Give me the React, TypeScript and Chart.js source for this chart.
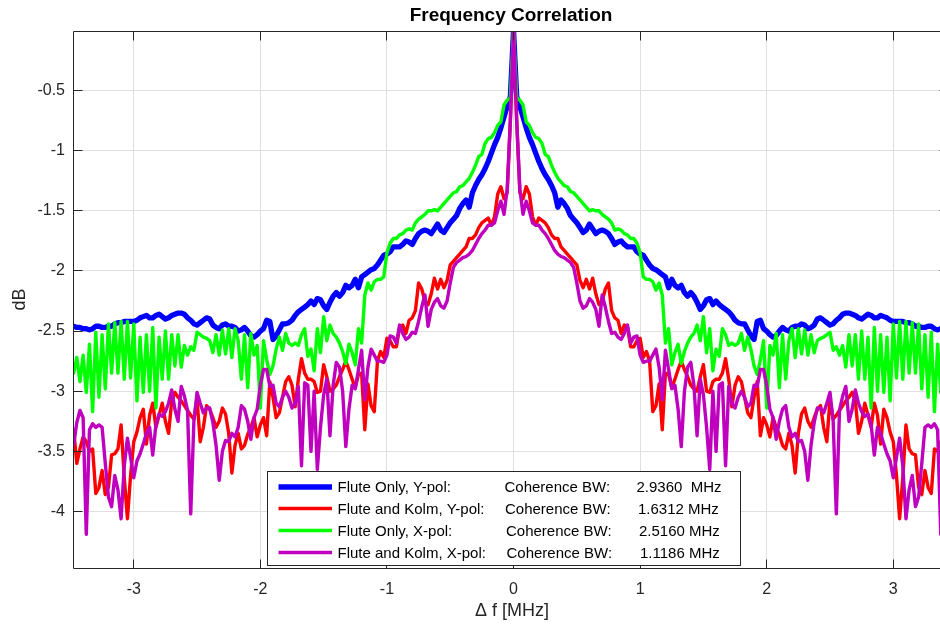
import React, { useEffect, useRef } from 'react';
import { Chart, registerables } from 'chart.js';

Chart.register(...registerables);

const FONT = '"Liberation Sans", Arial, Helvetica, sans-serif';
const INK = '#262626';
const GRID = '#dfdfdf';

// Frequency offset grid [MHz]
const freqMHz = [
  -3.475, -3.45, -3.425, -3.4, -3.375, -3.35, -3.325, -3.3, -3.275, -3.25,
  -3.225, -3.2, -3.175, -3.15, -3.125, -3.1, -3.075, -3.05, -3.025, -3,
  -2.975, -2.95, -2.925, -2.9, -2.875, -2.85, -2.825, -2.8, -2.775, -2.75,
  -2.725, -2.7, -2.675, -2.65, -2.625, -2.6, -2.575, -2.55, -2.525, -2.5,
  -2.475, -2.45, -2.425, -2.4, -2.375, -2.35, -2.325, -2.3, -2.275, -2.25,
  -2.225, -2.2, -2.175, -2.15, -2.125, -2.1, -2.075, -2.05, -2.025, -2,
  -1.975, -1.95, -1.925, -1.9, -1.875, -1.85, -1.825, -1.8, -1.775, -1.75,
  -1.725, -1.7, -1.675, -1.65, -1.625, -1.6, -1.575, -1.55, -1.525, -1.5,
  -1.475, -1.45, -1.425, -1.4, -1.375, -1.35, -1.325, -1.3, -1.275, -1.25,
  -1.225, -1.2, -1.175, -1.15, -1.125, -1.1, -1.075, -1.05, -1.025, -1,
  -0.975, -0.95, -0.925, -0.9, -0.875, -0.85, -0.825, -0.8, -0.775, -0.75,
  -0.725, -0.7, -0.675, -0.65, -0.625, -0.6, -0.575, -0.55, -0.525, -0.5,
  -0.475, -0.45, -0.425, -0.4, -0.375, -0.35, -0.325, -0.3, -0.275, -0.25,
  -0.225, -0.2, -0.175, -0.15, -0.125, -0.1, -0.075, -0.05, -0.025,
  0, 0.025, 0.05, 0.075, 0.1, 0.125, 0.15, 0.175, 0.2, 0.225,
  0.25, 0.275, 0.3, 0.325, 0.35, 0.375, 0.4, 0.425, 0.45, 0.475,
  0.5, 0.525, 0.55, 0.575, 0.6, 0.625, 0.65, 0.675, 0.7, 0.725,
  0.75, 0.775, 0.8, 0.825, 0.85, 0.875, 0.9, 0.925, 0.95, 0.975,
  1, 1.025, 1.05, 1.075, 1.1, 1.125, 1.15, 1.175, 1.2, 1.225,
  1.25, 1.275, 1.3, 1.325, 1.35, 1.375, 1.4, 1.425, 1.45, 1.475,
  1.5, 1.525, 1.55, 1.575, 1.6, 1.625, 1.65, 1.675, 1.7, 1.725,
  1.75, 1.775, 1.8, 1.825, 1.85, 1.875, 1.9, 1.925, 1.95, 1.975,
  2, 2.025, 2.05, 2.075, 2.1, 2.125, 2.15, 2.175, 2.2, 2.225,
  2.25, 2.275, 2.3, 2.325, 2.35, 2.375, 2.4, 2.425, 2.45, 2.475,
  2.5, 2.525, 2.55, 2.575, 2.6, 2.625, 2.65, 2.675, 2.7, 2.725,
  2.75, 2.775, 2.8, 2.825, 2.85, 2.875, 2.9, 2.925, 2.95, 2.975,
  3, 3.025, 3.05, 3.075, 3.1, 3.125, 3.15, 3.175, 3.2, 3.225,
  3.25, 3.275, 3.3, 3.325, 3.35, 3.375, 3.4, 3.425, 3.45,
];

// Flute Only, Y-pol [dB]
const fluteOnlyYpol = [
  -2.46, -2.47, -2.47, -2.48, -2.48, -2.49, -2.48, -2.46, -2.46, -2.47,
  -2.47, -2.46, -2.46, -2.44, -2.43, -2.43, -2.42, -2.42, -2.42, -2.42,
  -2.41, -2.39, -2.38, -2.37, -2.39, -2.39, -2.37, -2.36, -2.38, -2.40,
  -2.39, -2.37, -2.36, -2.35, -2.35, -2.36, -2.39, -2.41, -2.44, -2.45,
  -2.43, -2.41, -2.39, -2.40, -2.45, -2.47, -2.48, -2.45, -2.44, -2.46,
  -2.46, -2.47, -2.50, -2.49, -2.47, -2.50, -2.54, -2.55, -2.53, -2.50,
  -2.48, -2.41, -2.42, -2.57, -2.54, -2.49, -2.44, -2.44, -2.43, -2.41,
  -2.37, -2.34, -2.32, -2.30, -2.28, -2.25, -2.28, -2.23, -2.24, -2.29,
  -2.32, -2.26, -2.21, -2.18, -2.21, -2.18, -2.12, -2.14, -2.12, -2.07,
  -2.14, -2.05, -2.03, -2.01, -1.99, -1.98, -1.95, -1.91, -1.87, -1.86,
  -1.84, -1.80, -1.80, -1.80, -1.78, -1.75, -1.76, -1.78, -1.73, -1.69,
  -1.67, -1.66, -1.67, -1.69, -1.65, -1.61, -1.66, -1.68, -1.64, -1.60,
  -1.57, -1.54, -1.48, -1.44, -1.41, -1.47, -1.35, -1.29, -1.24, -1.20,
  -1.15, -1.09, -1.02, -0.95, -0.89, -0.81, -0.72, -0.63, -0.55,
  0, -0.55, -0.63, -0.72, -0.81, -0.89, -0.95, -1.02, -1.09, -1.15,
  -1.20, -1.24, -1.29, -1.35, -1.47, -1.41, -1.44, -1.48, -1.54, -1.57,
  -1.60, -1.64, -1.68, -1.66, -1.61, -1.65, -1.69, -1.67, -1.66, -1.67,
  -1.69, -1.73, -1.78, -1.76, -1.75, -1.78, -1.80, -1.80, -1.80, -1.84,
  -1.86, -1.87, -1.91, -1.95, -1.98, -1.99, -2.01, -2.03, -2.05, -2.14,
  -2.07, -2.12, -2.14, -2.12, -2.18, -2.21, -2.18, -2.21, -2.26, -2.32,
  -2.29, -2.24, -2.23, -2.28, -2.25, -2.28, -2.30, -2.32, -2.34, -2.37,
  -2.41, -2.43, -2.44, -2.44, -2.49, -2.54, -2.57, -2.42, -2.41, -2.48,
  -2.50, -2.53, -2.55, -2.54, -2.50, -2.47, -2.49, -2.50, -2.47, -2.46,
  -2.46, -2.44, -2.45, -2.48, -2.47, -2.45, -2.40, -2.39, -2.41, -2.43,
  -2.45, -2.44, -2.41, -2.39, -2.36, -2.35, -2.35, -2.36, -2.37, -2.39,
  -2.40, -2.38, -2.36, -2.37, -2.39, -2.39, -2.37, -2.38, -2.39, -2.41,
  -2.42, -2.42, -2.42, -2.42, -2.43, -2.43, -2.44, -2.46, -2.46, -2.47,
  -2.47, -2.46, -2.46, -2.48, -2.49, -2.48, -2.48, -2.47, -2.47,
];

// Flute and Kolm, Y-pol [dB]
const fluteKolmYpol = [
  -3.32, -3.60, -3.48, -3.38, -3.42, -3.50, -3.48, -3.85, -3.80, -3.66,
  -3.86, -3.80, -3.53, -3.52, -3.48, -3.28, -3.72, -4.06, -3.70, -3.42,
  -3.34, -3.22, -3.15, -3.44, -3.20, -3.10, -3.30, -3.20, -3.10, -3.25,
  -3.35, -3.08, -3.01, -3.05, -3.08, -3.12, -3.16, -3.20, -3.23, -3.07,
  -3.42, -3.30, -3.12, -3.15, -3.22, -3.30, -3.25, -3.14, -3.19, -3.35,
  -3.68, -3.45, -3.35, -3.48, -3.45, -3.36, -3.30, -3.22, -3.38, -3.28,
  -3.22, -3.37, -2.92, -3.05, -3.22, -3.18, -3.05, -2.92, -2.88, -2.95,
  -3.13, -2.90, -2.73, -2.85, -2.90, -2.90, -2.92, -3.01, -3.00, -2.78,
  -2.88, -3.00, -2.98, -2.95, -2.88, -2.82, -2.75, -2.82, -2.90, -2.97,
  -2.86, -2.85, -3.32, -2.94, -3.12, -3.17, -2.75, -2.67, -2.72, -2.56,
  -2.58, -2.63, -2.63, -2.47, -2.45, -2.52, -2.41, -2.39, -2.33, -2.10,
  -2.15, -2.25, -2.28, -2.19, -2.06, -2.15, -2.07, -2.14, -2.08, -1.95,
  -1.92, -1.89, -1.86, -1.83, -1.80, -1.73, -1.73, -1.70, -1.64, -1.60,
  -1.58, -1.56, -1.62, -1.55, -1.36, -1.30, -1.40, -1.35, -0.75,
  0, -0.75, -1.35, -1.40, -1.30, -1.36, -1.55, -1.62, -1.56, -1.58,
  -1.60, -1.64, -1.70, -1.73, -1.73, -1.80, -1.83, -1.86, -1.89, -1.92,
  -1.95, -2.08, -2.14, -2.07, -2.15, -2.06, -2.19, -2.28, -2.25, -2.15,
  -2.10, -2.33, -2.39, -2.41, -2.52, -2.45, -2.47, -2.63, -2.63, -2.58,
  -2.56, -2.72, -2.67, -2.75, -3.17, -3.12, -2.94, -3.32, -2.85, -2.86,
  -2.97, -2.90, -2.82, -2.75, -2.82, -2.88, -2.95, -2.98, -3.00, -2.88,
  -2.78, -3.00, -3.01, -2.92, -2.90, -2.90, -2.85, -2.73, -2.90, -3.13,
  -2.95, -2.88, -2.92, -3.05, -3.18, -3.22, -3.05, -2.92, -3.37, -3.22,
  -3.28, -3.38, -3.22, -3.30, -3.36, -3.45, -3.48, -3.35, -3.45, -3.68,
  -3.35, -3.19, -3.14, -3.25, -3.30, -3.22, -3.15, -3.12, -3.30, -3.42,
  -3.07, -3.23, -3.20, -3.16, -3.12, -3.08, -3.05, -3.01, -3.08, -3.35,
  -3.25, -3.10, -3.20, -3.30, -3.10, -3.20, -3.44, -3.15, -3.22, -3.34,
  -3.42, -3.70, -4.06, -3.72, -3.28, -3.48, -3.52, -3.53, -3.80, -3.86,
  -3.66, -3.80, -3.85, -3.48, -3.50, -3.42, -3.38, -3.48, -3.60,
];

// Flute Only, X-pol [dB]
const fluteOnlyXpol = [
  -2.85, -2.72, -2.92, -2.70, -3.01, -2.61, -3.17, -2.51, -3.05, -2.53,
  -2.98, -2.44, -2.85, -2.43, -2.85, -2.42, -2.90, -2.42, -2.89, -2.44,
  -3.08, -2.55, -3.01, -2.53, -3.00, -2.47, -3.14, -2.55, -2.90, -2.50,
  -2.90, -2.53, -2.79, -2.53, -2.80, -2.62, -2.70, -2.63, -2.66, -2.51,
  -2.53, -2.55, -2.56, -2.58, -2.68, -2.53, -2.70, -2.49, -2.69, -2.48,
  -2.72, -2.48, -2.58, -2.90, -2.53, -2.97, -2.52, -2.70, -2.62, -3.14,
  -2.58, -2.74, -2.86, -2.79, -2.65, -2.55, -2.66, -2.52, -2.60, -2.62,
  -2.60, -2.62, -2.53, -2.48, -2.71, -2.65, -2.83, -2.48, -2.68, -2.38,
  -2.58, -2.45, -2.52, -2.55, -2.60, -2.67, -2.77, -2.61, -2.68, -2.78,
  -2.48, -2.60, -2.20, -2.10, -2.16, -2.09, -2.07, -2.07, -2.05, -1.85,
  -1.77, -1.73, -1.73, -1.70, -1.69, -1.66, -1.65, -1.66, -1.60, -1.57,
  -1.55, -1.53, -1.50, -1.50, -1.49, -1.50, -1.47, -1.44, -1.41, -1.38,
  -1.35, -1.34, -1.30, -1.29, -1.26, -1.23, -1.18, -1.12, -1.05, -1.03,
  -0.94, -0.90, -0.89, -0.85, -0.79, -0.76, -0.62, -0.58, -0.56,
  0, -0.56, -0.58, -0.62, -0.76, -0.79, -0.85, -0.89, -0.90, -0.94,
  -1.03, -1.05, -1.12, -1.18, -1.23, -1.26, -1.29, -1.30, -1.34, -1.35,
  -1.38, -1.41, -1.44, -1.47, -1.50, -1.49, -1.50, -1.50, -1.53, -1.55,
  -1.57, -1.60, -1.66, -1.65, -1.66, -1.69, -1.70, -1.73, -1.73, -1.77,
  -1.85, -2.05, -2.07, -2.07, -2.09, -2.16, -2.10, -2.20, -2.60, -2.48,
  -2.78, -2.68, -2.61, -2.77, -2.67, -2.60, -2.55, -2.52, -2.45, -2.58,
  -2.38, -2.68, -2.48, -2.83, -2.65, -2.71, -2.48, -2.53, -2.62, -2.60,
  -2.62, -2.60, -2.52, -2.66, -2.55, -2.65, -2.79, -2.86, -2.74, -2.58,
  -3.14, -2.62, -2.70, -2.52, -2.97, -2.53, -2.90, -2.58, -2.48, -2.72,
  -2.48, -2.69, -2.49, -2.70, -2.53, -2.68, -2.58, -2.56, -2.55, -2.53,
  -2.51, -2.66, -2.63, -2.70, -2.62, -2.80, -2.53, -2.79, -2.53, -2.90,
  -2.50, -2.90, -2.55, -3.14, -2.47, -3.00, -2.53, -3.01, -2.55, -3.08,
  -2.44, -2.89, -2.42, -2.90, -2.42, -2.85, -2.43, -2.85, -2.44, -2.98,
  -2.53, -3.05, -2.51, -3.17, -2.61, -3.01, -2.70, -2.92, -2.72,
];

// Flute and Kolm, X-pol [dB]
const fluteKolmXpol = [
  -3.45, -3.26, -3.16, -3.22, -4.19, -3.32, -3.27, -3.30, -3.28, -3.30,
  -3.60, -3.88, -3.96, -3.70, -3.82, -4.06, -3.62, -3.39, -3.55, -3.72,
  -3.58, -3.52, -3.44, -3.35, -3.30, -3.53, -3.28, -3.19, -3.21, -3.17,
  -3.10, -2.99, -3.15, -3.25, -2.96, -3.04, -3.16, -4.02, -3.25, -3.01,
  -3.10, -3.18, -3.14, -3.14, -3.26, -3.45, -3.74, -3.50, -3.41, -3.42,
  -3.35, -3.38, -3.30, -3.12, -3.15, -3.25, -3.40, -3.22, -3.15, -2.95,
  -2.82, -2.82, -2.96, -2.95, -3.10, -3.13, -3.05, -3.00, -3.05, -3.14,
  -3.10, -2.96, -3.62, -2.93, -2.95, -3.50, -3.00, -3.65, -3.30, -3.03,
  -2.90, -3.37, -2.95, -2.76, -2.80, -3.00, -3.46, -3.15, -2.95, -2.98,
  -2.82, -2.66, -3.07, -2.80, -2.65, -2.70, -2.75, -2.75, -2.76, -2.70,
  -2.54, -2.55, -2.60, -2.45, -2.52, -2.57, -2.55, -2.51, -2.52, -2.42,
  -2.30, -2.20, -2.46, -2.32, -2.26, -2.23, -2.29, -2.31, -2.25, -2.10,
  -1.97, -1.93, -1.91, -1.89, -1.88, -1.86, -1.83, -1.78, -1.73, -1.69,
  -1.66, -1.62, -1.62, -1.60, -1.50, -1.42, -1.53, -1.32, -0.75,
  0, -0.75, -1.32, -1.53, -1.42, -1.50, -1.60, -1.62, -1.62, -1.66,
  -1.69, -1.73, -1.78, -1.83, -1.86, -1.88, -1.89, -1.91, -1.93, -1.97,
  -2.10, -2.25, -2.31, -2.29, -2.23, -2.26, -2.32, -2.46, -2.20, -2.30,
  -2.42, -2.52, -2.51, -2.55, -2.57, -2.52, -2.45, -2.60, -2.55, -2.54,
  -2.70, -2.76, -2.75, -2.75, -2.70, -2.65, -2.80, -3.07, -2.66, -2.82,
  -2.98, -2.95, -3.15, -3.46, -3.00, -2.80, -2.76, -2.95, -3.37, -2.90,
  -3.03, -3.30, -3.65, -3.00, -3.50, -2.95, -2.93, -3.62, -2.96, -3.10,
  -3.14, -3.05, -3.00, -3.05, -3.13, -3.10, -2.95, -2.96, -2.82, -2.82,
  -2.95, -3.15, -3.22, -3.40, -3.25, -3.15, -3.12, -3.30, -3.38, -3.35,
  -3.42, -3.41, -3.50, -3.74, -3.45, -3.26, -3.14, -3.14, -3.18, -3.10,
  -3.01, -3.25, -4.02, -3.16, -3.04, -2.96, -3.25, -3.15, -2.99, -3.10,
  -3.17, -3.21, -3.19, -3.28, -3.53, -3.30, -3.35, -3.44, -3.52, -3.58,
  -3.72, -3.55, -3.39, -3.62, -4.06, -3.82, -3.70, -3.96, -3.88, -3.60,
  -3.30, -3.28, -3.30, -3.27, -3.32, -4.19, -3.22, -3.16, -3.26,
];

const xTicks = [-3, -2, -1, 0, 1, 2, 3];
const yTicks = [-4, -3.5, -3, -2.5, -2, -1.5, -1, -0.5];

const seriesNames = [
  'Flute Only, Y-pol:',
  'Flute and Kolm, Y-pol:',
  'Flute Only, X-pol:',
  'Flute and Kolm, X-pol:',
];
const coherenceLabel = 'Coherence BW:';
const coherenceBW = ['2.9360  MHz', '1.6312 MHz', '2.5160 MHz', '1.1186 MHz'];
const seriesColors = ['#0000ff', '#ff0000', '#00ff00', '#bf00bf'];
const seriesWidths = [5.3, 3.4, 3.4, 3.4];
const seriesValues = [fluteOnlyYpol, fluteKolmYpol, fluteOnlyXpol, fluteKolmXpol];
const drawOrder = [3, 2, 1, 0];

const titleText = 'Frequency Correlation';
const xLabelText = '\u0394 f [MHz]';
const yLabelText = 'dB';

function alignPx(p: number) {
  return Math.round(p - 0.5) + 0.5;
}

const matlabPlugin = {
  id: 'matlabDecor',
  afterDatasetsDraw(chart: any) {
    const { ctx, chartArea: a, scales } = chart;
    ctx.save();
    ctx.strokeStyle = INK;
    ctx.lineWidth = 1;
    const L = a.left + 0.5;
    const R = a.right - 0.5;
    const T = a.top + 0.5;
    const B = a.bottom + 0.5;
    ctx.beginPath();
    ctx.moveTo(L, T);
    ctx.lineTo(R, T);
    ctx.lineTo(R, B);
    ctx.lineTo(L, B);
    ctx.closePath();
    ctx.stroke();
    const tl = 9;
    ctx.beginPath();
    xTicks.forEach((v) => {
      const px = alignPx(scales.x.getPixelForValue(v));
      ctx.moveTo(px, B);
      ctx.lineTo(px, B - tl);
      ctx.moveTo(px, T);
      ctx.lineTo(px, T + tl);
    });
    yTicks.forEach((v) => {
      const py = alignPx(scales.y.getPixelForValue(v));
      ctx.moveTo(L, py);
      ctx.lineTo(L + tl, py);
      ctx.moveTo(R, py);
      ctx.lineTo(R - tl, py);
    });
    ctx.stroke();
    ctx.restore();
  },
  afterDraw(chart: any) {
    const { ctx, chartArea: a } = chart;
    ctx.save();
    const cx = (a.left + a.right) / 2;
    // title
    ctx.fillStyle = '#000';
    ctx.font = `bold 19px ${FONT}`;
    ctx.textAlign = 'center';
    ctx.textBaseline = 'middle';
    ctx.fillText(titleText, cx, 16);
    // axis labels
    ctx.fillStyle = INK;
    ctx.font = `18px ${FONT}`;
    ctx.fillText(xLabelText, cx + 1, 611);
    ctx.save();
    ctx.translate(20, (a.top + a.bottom) / 2);
    ctx.rotate(-Math.PI / 2);
    ctx.fillText(yLabelText, 0, 0);
    ctx.restore();

    // legend
    const bx = 267.5, by = 471.5, bw = 473, bh = 94;
    ctx.fillStyle = '#ffffff';
    ctx.fillRect(bx, by, bw, bh);
    ctx.strokeStyle = '#262626';
    ctx.lineWidth = 1;
    ctx.strokeRect(bx, by, bw, bh);
    const rowY = [487, 508.5, 530.5, 552.5];
    const col2 = [504.5, 505, 506, 506.5];
    const col3 = [636.5, 638, 639, 640];
    ctx.font = `15px ${FONT}`;
    ctx.textAlign = 'left';
    ctx.textBaseline = 'middle';
    seriesNames.forEach((name, i) => {
      ctx.strokeStyle = seriesColors[i];
      ctx.lineWidth = seriesWidths[i];
      ctx.lineCap = 'butt';
      ctx.beginPath();
      ctx.moveTo(278.5, rowY[i]);
      ctx.lineTo(332, rowY[i]);
      ctx.stroke();
      ctx.fillStyle = '#000';
      ctx.fillText(name, 337.5, rowY[i] + 1);
      ctx.fillText(coherenceLabel, col2[i], rowY[i] + 1);
      ctx.fillText(coherenceBW[i], col3[i], rowY[i] + 1);
    });
    ctx.restore();
  },
};

function FrequencyCorrelationChart() {
  const ref = useRef<HTMLCanvasElement | null>(null);
  useEffect(() => {
    const canvas = ref.current;
    if (!canvas) return;
    const datasets = seriesValues.map((vals, i) => ({
      label: seriesNames[i],
      data: freqMHz.map((f, j) => ({ x: f, y: vals[j] })),
      borderColor: seriesColors[i],
      backgroundColor: seriesColors[i],
      borderWidth: seriesWidths[i],
      pointRadius: 0,
      tension: 0,
      fill: false,
      borderJoinStyle: 'round',
      borderCapStyle: 'round',
      clip: 0,
      order: drawOrder[i],
    }));
    const chart = new Chart(canvas, {
      type: 'line',
      data: { datasets } as any,
      options: {
        responsive: false,
        maintainAspectRatio: false,
        animation: false,
        devicePixelRatio: 1,
        events: [],
        layout: { padding: { top: 31, right: 1, left: 0, bottom: 0 } },
        plugins: {
          legend: { display: false },
          title: { display: false },
          tooltip: { enabled: false },
        },
        scales: {
          x: {
            type: 'linear',
            min: -3.48,
            max: 3.44,
            afterBuildTicks: (s: any) => {
              s.ticks = xTicks.map((v) => ({ value: v }));
            },
            afterFit: (s: any) => {
              s.height = 60;
            },
            grid: { color: GRID, lineWidth: 1, drawTicks: false },
            border: { display: false },
            ticks: {
              color: INK,
              font: { family: FONT, size: 16 },
              padding: 12,
              maxRotation: 0,
              autoSkip: false,
              callback: (v: any) => String(v),
            },
          },
          y: {
            type: 'linear',
            min: -4.47,
            max: -0.005,
            afterBuildTicks: (s: any) => {
              s.ticks = yTicks.map((v) => ({ value: v }));
            },
            afterFit: (s: any) => {
              s.width = 73;
            },
            grid: { color: GRID, lineWidth: 1, drawTicks: false },
            border: { display: false },
            ticks: {
              color: INK,
              font: { family: FONT, size: 16 },
              padding: 8,
              autoSkip: false,
              callback: (v: any) => String(v),
            },
          },
        },
      } as any,
      plugins: [matlabPlugin],
    });
    return () => chart.destroy();
  }, []);
  return (
    <canvas
      ref={ref}
      width={950}
      height={628}
      style={{ display: 'block', width: 950, height: 628 }}
    />
  );
}

export default function App() {
  return (
    <div
      style={{
        position: 'fixed',
        left: 0,
        top: 0,
        width: 940,
        height: 628,
        overflow: 'hidden',
        background: '#ffffff',
      }}
    >
      <FrequencyCorrelationChart />
    </div>
  );
}
